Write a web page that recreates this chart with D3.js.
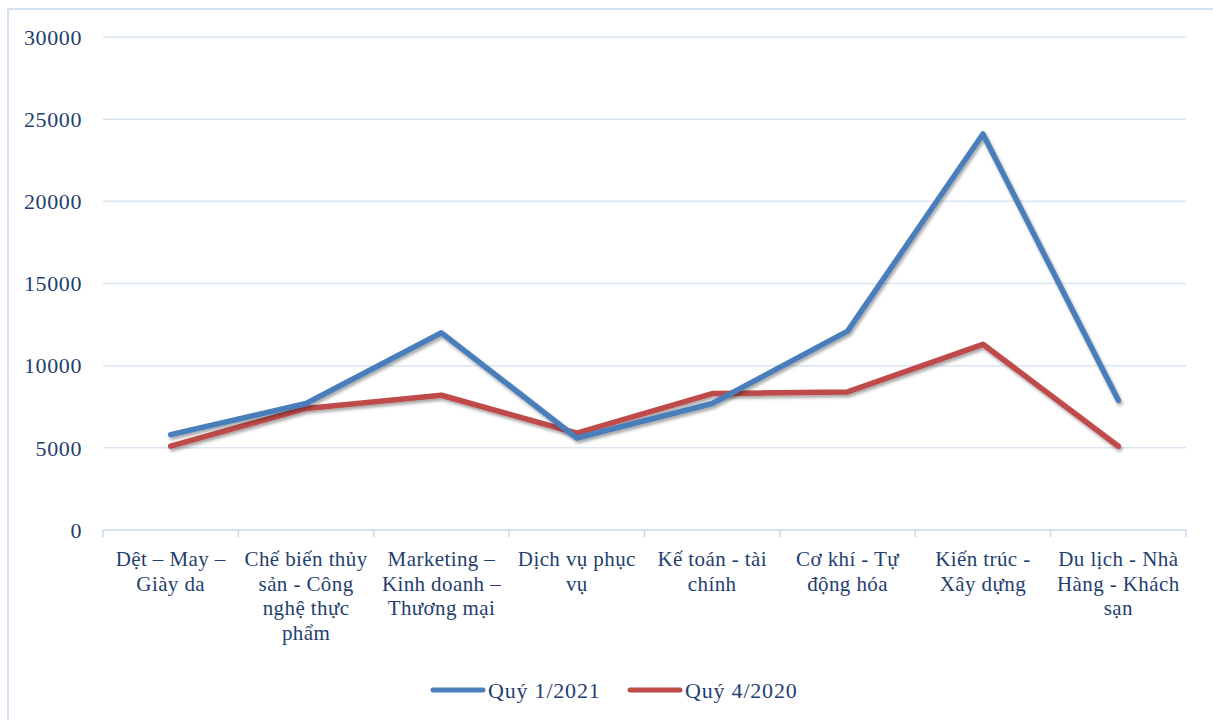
<!DOCTYPE html>
<html>
<head>
<meta charset="utf-8">
<script src="https://cdn.jsdelivr.net/npm/d3@7"></script>
<style>
  body { margin: 0; background: #fff; }
  text { font-family: "Liberation Serif", "Times New Roman", serif; fill: #1f406f; }
</style>
</head>
<body>
<div id="chart"></div>
<script>
// categories (line breaks as in the picture)
var categories = [
  "Dệt – May –\nGiày da",
  "Chế biến thủy\nsản - Công\nnghệ thực\nphẩm",
  "Marketing –\nKinh doanh –\nThương mại",
  "Dịch vụ phục\nvụ",
  "Kế toán - tài\nchính",
  "Cơ khí - Tự\nđộng hóa",
  "Kiến trúc -\nXây dựng",
  "Du lịch - Nhà\nHàng - Khách\nsạn"
];
var q1_2021 = [5800, 7700, 12000, 5600, 7700, 12100, 24100, 7900];
var q4_2020 = [5100, 7400, 8200, 5900, 8300, 8400, 11300, 5100];
var seriesNames = ["Quý 1/2021", "Quý 4/2020"];
var seriesColors = ["#4a7ebb", "#be4b48"];
var yTicks = [0, 5000, 10000, 15000, 20000, 25000, 30000];

var width = 1213, height = 720;
var margin = { top: 37, right: 27, bottom: 190, left: 103 };

var svg = d3.select("#chart").append("svg")
  .attr("width", width)
  .attr("height", height);

// outer chart frame
svg.append("rect")
  .attr("x", 8).attr("y", 9)
  .attr("width", width + 10).attr("height", height + 10)
  .attr("fill", "none")
  .attr("stroke", "#d3e1f2")
  .attr("stroke-width", 2);

var defs = svg.append("defs");
var f = defs.append("filter").attr("id", "shadow")
  .attr("x", "-10%").attr("y", "-10%").attr("width", "120%").attr("height", "130%");
f.append("feDropShadow")
  .attr("dx", 1.5).attr("dy", 2.5).attr("stdDeviation", 1.6)
  .attr("flood-color", "#000").attr("flood-opacity", 0.35);

var xScale = d3.scaleBand()
  .domain(d3.range(categories.length))
  .range([margin.left, width - margin.right]);
var yScale = d3.scaleLinear()
  .domain([0, 30000])
  .range([height - margin.bottom, margin.top]);

// gridlines
svg.append("g").selectAll("line")
  .data(yTicks.filter(function (d) { return d > 0; }))
  .enter().append("line")
  .attr("x1", margin.left).attr("x2", width - margin.right)
  .attr("y1", function (d) { return yScale(d); })
  .attr("y2", function (d) { return yScale(d); })
  .attr("stroke", "#dbe6f3")
  .attr("stroke-width", 1.5);

// y axis labels
svg.append("g").selectAll("text")
  .data(yTicks)
  .enter().append("text")
  .attr("x", 82)
  .attr("y", function (d) { return yScale(d); })
  .attr("dy", "0.35em")
  .attr("text-anchor", "end")
  .attr("font-size", "22px")
  .attr("letter-spacing", "0.6px")
  .text(function (d) { return d; });

// x axis line + tick marks
var xAxisY = yScale(0);
svg.append("line")
  .attr("x1", margin.left).attr("x2", width - margin.right)
  .attr("y1", xAxisY).attr("y2", xAxisY)
  .attr("stroke", "#c9daef").attr("stroke-width", 1.5);
var bounds = d3.range(categories.length).map(function (i) { return xScale(i); });
bounds.push(width - margin.right);
svg.append("g").selectAll("line")
  .data(bounds)
  .enter().append("line")
  .attr("x1", function (d) { return d; }).attr("x2", function (d) { return d; })
  .attr("y1", xAxisY).attr("y2", xAxisY + 7)
  .attr("stroke", "#c9daef").attr("stroke-width", 1.5);

// category labels
var catG = svg.append("g").selectAll("text")
  .data(categories)
  .enter().append("text")
  .attr("text-anchor", "middle")
  .attr("font-size", "21px")
  .attr("letter-spacing", "0.4px");
catG.each(function (d, i) {
  var t = d3.select(this);
  d.split("\n").forEach(function (line, j) {
    t.append("tspan")
      .attr("x", xScale(i) + xScale.bandwidth() / 2)
      .attr("y", xAxisY + 36 + j * 24.5)
      .text(line);
  });
});

// lines
var line = d3.line()
  .x(function (d, i) { return xScale(i) + xScale.bandwidth() / 2; })
  .y(function (d) { return yScale(d); });

[q4_2020, q1_2021].forEach(function (vals, k) {
  var idx = k === 0 ? 1 : 0;
  svg.append("path")
    .datum(vals)
    .attr("fill", "none")
    .attr("stroke", seriesColors[idx])
    .attr("stroke-width", 5.5)
    .attr("stroke-linejoin", "round")
    .attr("stroke-linecap", "round")
    .attr("filter", "url(#shadow)")
    .attr("d", line);
});

// legend
var legendX = [433, 630];
var legend = svg.append("g").selectAll("g")
  .data(seriesNames)
  .enter().append("g")
  .attr("transform", function (d, i) { return "translate(" + legendX[i] + ",690)"; });
legend.append("line")
  .attr("x1", 0).attr("x2", 50)
  .attr("stroke", function (d, i) { return seriesColors[i]; })
  .attr("stroke-width", 5)
  .attr("stroke-linecap", "round");
legend.append("text")
  .attr("x", 55)
  .attr("dy", "0.35em")
  .attr("font-size", "22px")
  .attr("letter-spacing", "0.8px")
  .text(function (d) { return d; });
</script>
</body>
</html>
